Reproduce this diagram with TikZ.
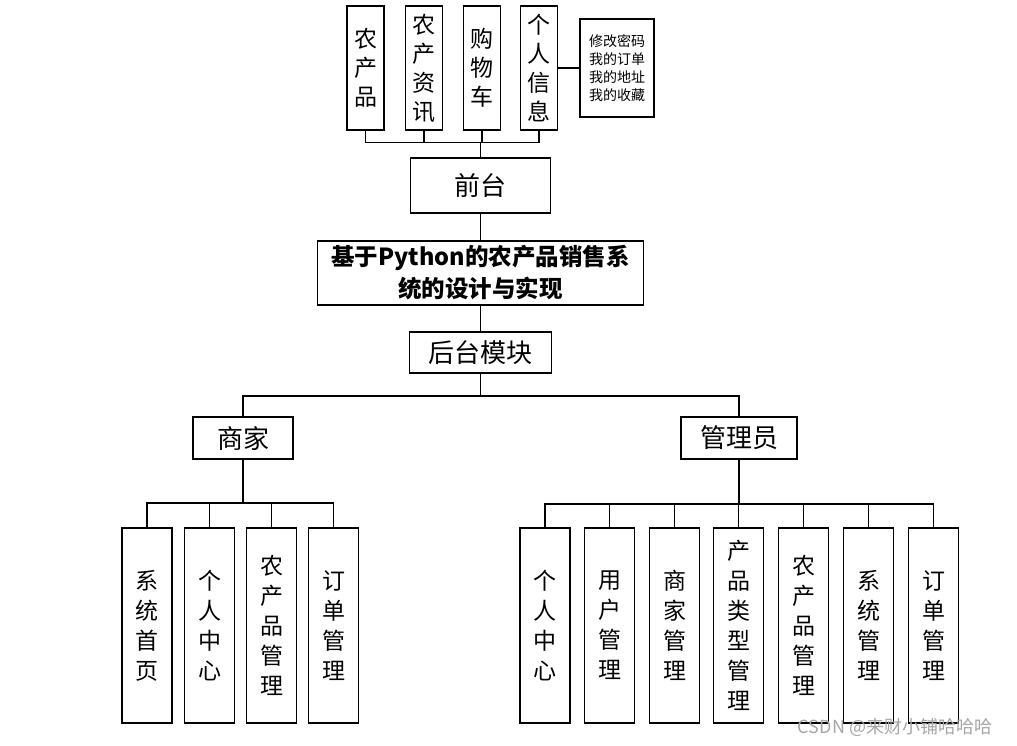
\documentclass[tikz,border=0pt]{standalone}
\usepackage{fontspec}
\setmainfont{Noto Sans CJK SC}
\usetikzlibrary{positioning}

\begin{document}
\begin{tikzpicture}[x=1pt,y=-1pt,
    b/.style={draw=black,line width=1.4pt,inner sep=0pt,align=center},
    vb/.style={b,minimum width=37pt,minimum height=124pt,font=\fontsize{23}{29}\selectfont},
    cb/.style={b,minimum width=50pt,minimum height=195pt,font=\fontsize{23}{30}\selectfont},
    mb/.style={b,font=\fontsize{26}{30}\selectfont},
    e/.style={line width=1.6pt,black}
  ]
    \useasboundingbox (0,0) rectangle (1017,745);
    % front end
    \node[vb] (t1) at (365.5,68) {农\\产\\品};
    \node[vb] (t2) at (424,68) {农\\产\\资\\讯};
    \node[vb] (t3) at (482,68) {购\\物\\车};
    \node[vb] (t4) at (539,68) {个\\人\\信\\息};
    \node[b,minimum width=74pt,minimum height=98pt,font=\fontsize{14}{18}\selectfont] (side) at (617,68) {修改密码\\我的订单\\我的地址\\我的收藏};
    \node[mb,minimum width=140pt,minimum height=55pt] (qt) at (480.5,185.5) {前台};
    % title
    \node[b,minimum width=326pt,minimum height=64pt,font=\fontsize{23.5}{32}\selectfont\bfseries] (title) at (480.5,273) {基于Python的农产品销售系\\统的设计与实现};
    % back end
    \node[mb,minimum width=142pt,minimum height=41pt] (ht) at (480.5,352.5) {后台模块};
    \node[mb,minimum width=100pt,minimum height=42pt] (sj) at (243,438) {商家};
    \node[mb,minimum width=116pt,minimum height=42pt] (gly) at (739,438) {管理员};
    \node[cb] (s1) at (147,625.5) {系\\统\\首\\页};
    \node[cb] (s2) at (209.5,625.5) {个\\人\\中\\心};
    \node[cb] (s3) at (271.5,625.5) {农\\产\\品\\管\\理};
    \node[cb] (s4) at (333.5,625.5) {订\\单\\管\\理};
    \node[cb] (g1) at (545,625.5) {个\\人\\中\\心};
    \node[cb] (g2) at (609.5,625.5) {用\\户\\管\\理};
    \node[cb] (g3) at (674.5,625.5) {商\\家\\管\\理};
    \node[cb] (g4) at (738.5,625.5) {产\\品\\类\\型\\管\\理};
    \node[cb] (g5) at (803.5,625.5) {农\\产\\品\\管\\理};
    \node[cb] (g6) at (868.5,625.5) {系\\统\\管\\理};
    \node[cb] (g7) at (933.5,625.5) {订\\单\\管\\理};
    \node[text=black!35,font=\fontsize{18}{20}\selectfont] (wm) at (895,727) {CSDN @来财小铺哈哈哈};
    % connectors
    \foreach \n in {t1,t2,t3,t4} \draw[e] (qt.north) -- ++(0,-15) -| (\n.south);
    \draw[e] (t4.east) -- (side.west);
    \draw[e] (qt.south) -- (title.north);
    \draw[e] (title.south) -- (ht.north);
    \draw[e] (ht.south) -- ++(0,22) -| (sj.north);
    \draw[e] (ht.south) -- ++(0,22) -| (gly.north);
    \foreach \n in {s1,s2,s3,s4} \draw[e] (sj.south) -- ++(0,43) -| (\n.north);
    \foreach \n in {g1,g2,g3,g4,g5,g6,g7} \draw[e] (gly.south) -- ++(0,44) -| (\n.north);
  \end{tikzpicture}
\end{document}
